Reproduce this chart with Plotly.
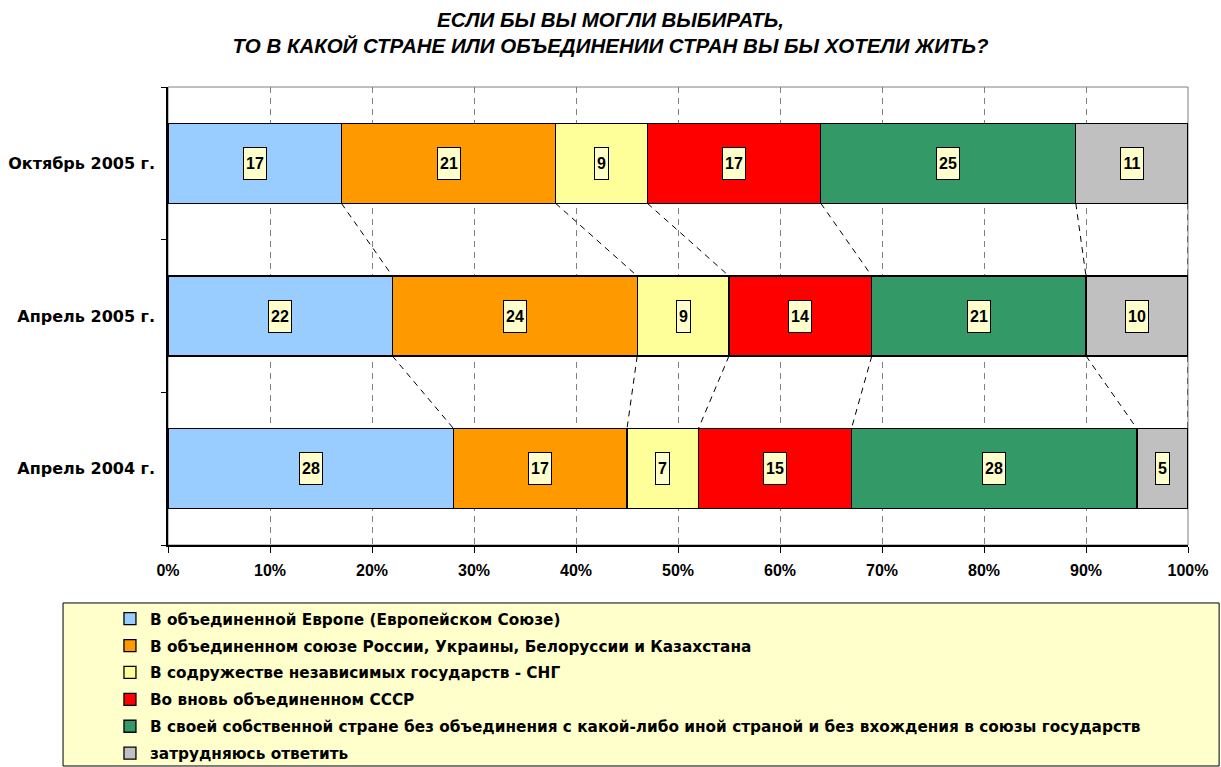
import plotly.graph_objects as go

# Survey waves, listed bottom-to-top as plotted
periods = ["Апрель 2004 г.", "Апрель 2005 г.", "Октябрь 2005 г."]

series_names = [
    "В объединенной Европе (Европейском Союзе)",
    "В объединенном союзе России, Украины, Белоруссии и Казахстана",
    "В содружестве независимых государств - СНГ",
    "Во вновь объединенном СССР",
    "В своей собственной стране без объединения с какой-либо иной страной и без вхождения в союзы государств",
    "затрудняюсь ответить",
]

# Shares (%) per series, in the order of `periods`
eu = [28, 22, 17]
ru_ua_by_kz = [17, 24, 21]
cis = [7, 9, 9]
ussr = [15, 14, 17]
own_country = [28, 21, 25]
hard_to_say = [5, 10, 11]

series_values = [eu, ru_ua_by_kz, cis, ussr, own_country, hard_to_say]
colors = ["#99CCFF", "#FF9900", "#FFFF99", "#FF0000", "#339966", "#C0C0C0"]

tick_vals = list(range(0, 101, 10))
tick_text = [f"{v}%" for v in tick_vals]

BAR_W = 0.524
NUM_FONT = "Liberation Sans, Arial, sans-serif"
TXT_FONT = "DejaVu Sans, Verdana, sans-serif"

fig = go.Figure()

for i, (name, vals, col) in enumerate(zip(series_names, series_values, colors)):
    fig.add_trace(go.Bar(
        y=periods, x=vals, name=name, orientation="h",
        marker=dict(color=col, line=dict(color="#000000", width=1.3)),
        legendgroup=f"g{i}", hoverinfo="x+name",
    ))

# cumulative boundaries of each segment, per period
cums = []
for p in range(len(periods)):
    acc, row = 0, []
    for vals in series_values:
        acc += vals[p]
        row.append(acc)
    cums.append(row)

# dashed series lines joining segment edges of adjacent bars
for p_low in range(len(periods) - 1):
    p_up = p_low + 1
    for s in range(len(series_values)):
        fig.add_trace(go.Scatter(
            x=[cums[p_up][s], cums[p_low][s]],
            y=[p_up - BAR_W / 2, p_low + BAR_W / 2],
            mode="lines", yaxis="y2", showlegend=False, hoverinfo="skip",
            line=dict(color="#000000", width=1, dash="6px,5px"),
        ))

# value labels in boxes at segment centres
for p in range(len(periods)):
    for s, vals in enumerate(series_values):
        v = vals[p]
        fig.add_annotation(
            x=cums[p][s] - v / 2, y=periods[p], xref="x", yref="y",
            text=str(v), showarrow=False,
            font=dict(family=NUM_FONT, size=16, color="#000000", weight="bold"),
            bgcolor="#FFFFCC", bordercolor="#000000", borderwidth=1, borderpad=1,
            width=20 if v >= 10 else 11, height=29,
        )

# plot area frame (top/right) and legend panel
fig.add_shape(type="rect", xref="paper", yref="paper", x0=0, x1=1, y0=0, y1=1,
              line=dict(color="#808080", width=1), layer="below")
fig.add_shape(type="rect", xref="paper", yref="paper",
              x0=-0.1029, x1=1.0305, y0=-0.4825, y1=-0.1266,
              line=dict(color="#000000", width=1), fillcolor="#FFFFCC", layer="below")

fig.update_layout(
    width=1221, height=767,
    margin=dict(l=168, r=33, t=87, b=222, autoexpand=False),
    paper_bgcolor="#FFFFFF", plot_bgcolor="#FFFFFF",
    barmode="stack", bargap=1 - BAR_W,
    title=dict(
        text="ЕСЛИ БЫ ВЫ МОГЛИ ВЫБИРАТЬ,<br>ТО В КАКОЙ СТРАНЕ ИЛИ ОБЪЕДИНЕНИИ СТРАН ВЫ БЫ ХОТЕЛИ ЖИТЬ?",
        x=0.5, xref="container", xanchor="center",
        y=1 - 26.5 / 767, yref="container", yanchor="middle",
        font=dict(family="Liberation Sans, Arial, sans-serif",
                  size=20.5, color="#000000", weight="bold", style="italic"),
    ),
    xaxis=dict(
        range=[0, 100], tickvals=tick_vals, ticktext=tick_text,
        showgrid=True, gridcolor="#808080", gridwidth=1, griddash="6px,5px",
        showline=True, linecolor="#000000", linewidth=1.5,
        ticks="outside", ticklen=6, tickcolor="#000000", tickwidth=1,
        ticklabelstandoff=4,
        tickfont=dict(family=NUM_FONT, size=16, color="#000000", weight="bold"),
        zeroline=False, fixedrange=True,
    ),
    yaxis=dict(
        type="category", categoryorder="array", categoryarray=periods,
        range=[-0.5, 2.5], tickson="boundaries",
        showline=True, linecolor="#000000", linewidth=1.5,
        ticks="outside", ticklen=5, tickcolor="#000000", tickwidth=1,
        ticklabelstandoff=8,
        tickfont=dict(family=TXT_FONT, size=16, color="#000000", weight="bold"),
        showgrid=False, fixedrange=True,
    ),
    yaxis2=dict(overlaying="y", range=[-0.5, 2.5], visible=False, fixedrange=True),
    showlegend=True,
    legend=dict(
        x=-0.0569, y=-0.125, xanchor="left", yanchor="top",
        traceorder="grouped", tracegroupgap=4,
        bgcolor="rgba(0,0,0,0)", borderwidth=0,
        font=dict(family=TXT_FONT, size=15.3, color="#000000", weight="bold"),
    ),
)

fig.write_html("out.html")
